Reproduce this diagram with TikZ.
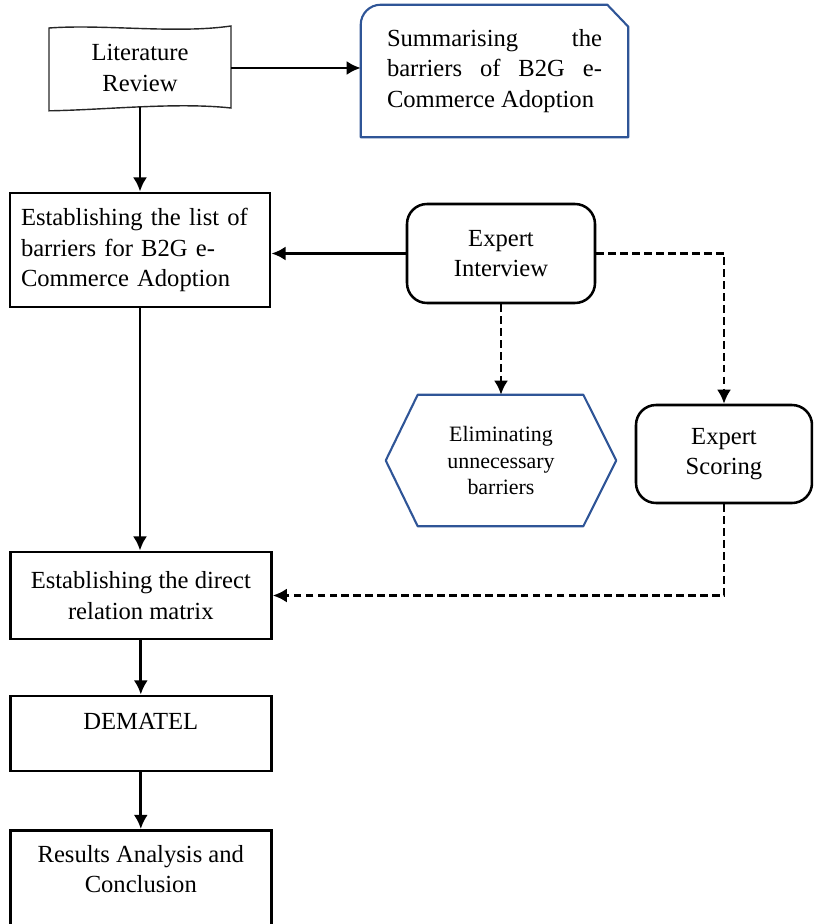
\documentclass[tikz,border=0pt]{standalone}
\usepackage{fontspec}
\setmainfont{Liberation Serif}
\usepackage{tikz}
\usetikzlibrary{calc,arrows.meta}
\definecolor{boxblue}{RGB}{47,85,151}
\tikzstyle{every picture}=[->,>={Latex[length=10pt,width=10pt]}]
\tikzstyle{txt}=[font=\fontsize{17.5}{21.6}\selectfont, align=center]
\tikzstyle{rectbox}=[txt, draw, line width=2.1pt, minimum width=6.525cm]
\tikzstyle{roundbox}=[txt, draw, line width=1.8pt, rounded corners=0.5cm]
\tikzstyle{plainbox}=[txt, minimum width=0pt, inner sep=0pt]
\tikzstyle{blueline}=[-, draw=boxblue, line width=1.5pt, line join=round]
\tikzstyle{flow}=[line width=2.1pt]
\tikzstyle{dashflow}=[line width=1.9pt, dash pattern=on 5.5pt off 3pt]

\begin{document}
\begin{tikzpicture}
\useasboundingbox (0,0) rectangle (20.325,-23.1);
\clip (0,0) rectangle (20.325,-23.1);

 % top row
 \node[plainbox, minimum width=4.55cm, minimum height=1.95cm] (lit) at (3.5,-1.70) {Literature\\Review};
 \draw[-, black!85, line width=1pt]
        (1.225,-0.70) .. controls (2.6,-0.60) and (4.4,-0.85) .. (5.775,-0.65)
        -- (5.775,-2.70) .. controls (4.4,-2.55) and (2.6,-2.75) .. (1.225,-2.77) -- cycle;
 \node[txt, minimum width=6.675cm, minimum height=3.3cm, text width=5.375cm, align=justify] (sum) at (12.3625,-1.775)
        {Summarising the barriers of B2G e-Commerce Adoption};
    % Now draw the edges on top
 \draw[blueline] (sum.south west) -- ([yshift=-0.5cm]sum.north west)
        arc[start angle=180, end angle=90, radius=0.5cm]
        -- ([xshift=-0.525cm]sum.north east) -- ([yshift=-0.55cm]sum.north east)
        -- (sum.south east) -- cycle;

 % middle part
 \node[rectbox, minimum width=6.5cm, minimum height=2.85cm, text width=5.95cm, align=left] (list) at (3.5,-6.25)
        {Establishing the list of barriers for B2G e-\\Commerce Adoption};
 \node[roundbox, minimum width=4.7cm, minimum height=2.475cm] (int) at (12.525,-6.3375) {Expert\\Interview};
 \node[txt, font=\fontsize{15.6}{19}\selectfont, minimum width=5.75cm, minimum height=3.275cm] (hex) at (12.525,-11.5125)
        {Eliminating\\unnecessary\\barriers};
 \draw[blueline] (hex.west) -- ([xshift=0.8cm]hex.north west) -- ([xshift=-0.825cm]hex.north east)
        -- (hex.east) -- ([xshift=-0.825cm]hex.south east) -- ([xshift=0.8cm]hex.south west) -- cycle;
 \node[roundbox, minimum width=4.4cm, minimum height=2.45cm] (score) at (18.1,-11.35) {Expert\\Scoring};

 % lower chain
 \node[rectbox, minimum height=2.175cm] (mat) at (3.52,-14.8875) {Establishing the direct\\relation matrix};
 \node[rectbox, minimum height=1.875cm, text height=0.45cm, text depth=0.665cm] (dem) at (3.52,-18.3375) {DEMATEL};
 \node[rectbox, minimum height=3cm, anchor=north] (res) at (3.52,-20.725) {};
 \node[plainbox] (resTxt) at ([yshift=-1.0cm]res.north) {Results Analysis and\\Conclusion};

 % arrows
 \draw[flow] (lit.east) -- (lit.east -| sum.west);
 \draw[flow] (lit.south) -- (lit.south |- list.north);
 \draw[flow] (int.west) -- (int.west -| list.east);
 \draw[flow] (list.south) -- (list.south |- mat.north);
 \draw[flow] (mat.south) -- (dem.north);
 \draw[flow] (dem.south) -- (res.north);
 \draw[dashflow] (int.south) -- (hex.north);
 \draw[dashflow] (int.east) -| (score.north);
 \draw[dashflow] (score.south) |- (mat.east);
\end{tikzpicture}
\end{document}
